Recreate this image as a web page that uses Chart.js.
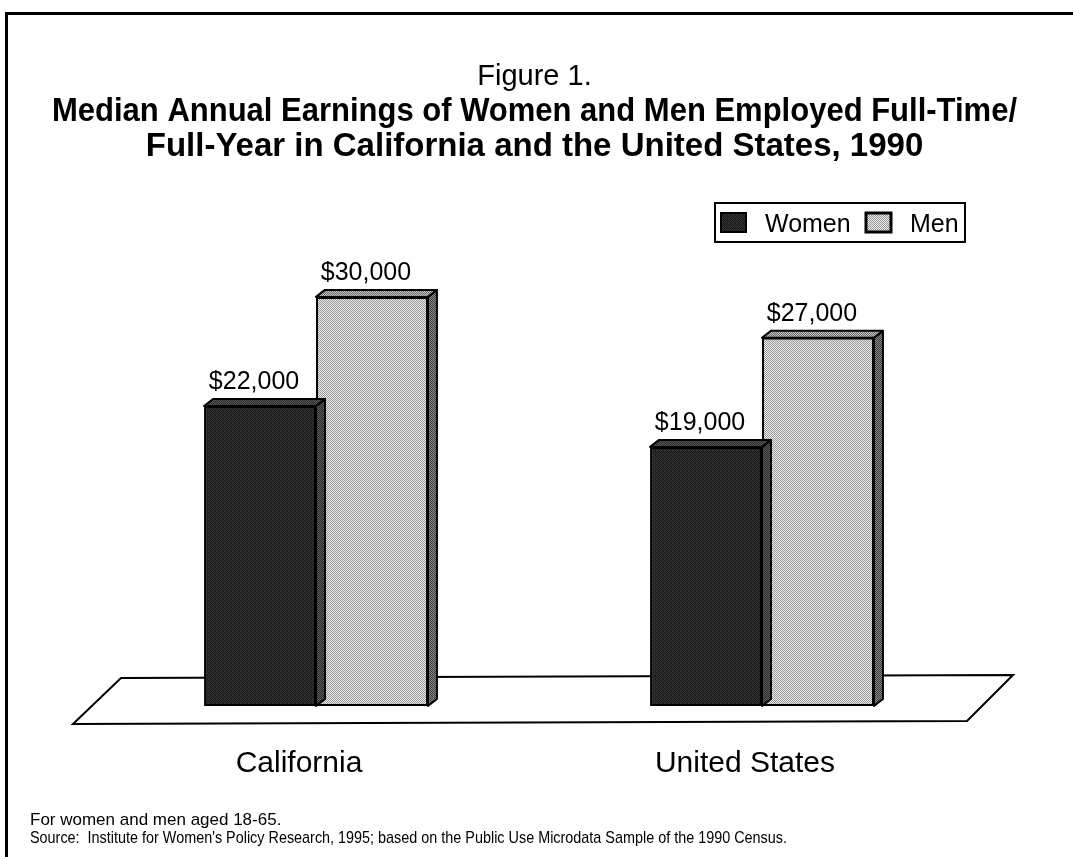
<!DOCTYPE html>
<html>
<head>
<meta charset="utf-8">
<script src="https://cdn.jsdelivr.net/npm/chart.js@4"></script>
<style>
  html, body { margin: 0; padding: 0; background: #fff; }
  #wrap { position: relative; width: 1073px; height: 857px; overflow: hidden; }
  #frame { position: absolute; left: 5px; top: 12px; right: -5px; bottom: -5px;
           border-left: 3px solid #000; border-top: 3px solid #000; pointer-events: none; }
  canvas { display: block; }
</style>
</head>
<body>
<div id="wrap">
  <canvas id="earningsChart" width="1073" height="857"></canvas>
  <div id="frame"></div>
</div>
<script>
const FONT = '"Liberation Sans", Arial, Helvetica, sans-serif';

const categories = ["California", "United States"];
const seriesNames = ["Women", "Men"];
const womenEarnings = [22000, 19000];
const menEarnings = [30000, 27000];
const footnotes = [
    "For women and men aged 18-65.",
    "Source:  Institute for Women's Policy Research, 1995; based on the Public Use Microdata Sample of the 1990 Census."
];

// depth of the fake 3d extrusion
const DX = 9;
const DY = 7;

// small dithered fills like the old print shades
function makePattern(cells, size) {
    const c = document.createElement("canvas");
    c.width = size;
    c.height = size;
    const g = c.getContext("2d");
    cells.forEach((col, i) => {
        g.fillStyle = col;
        g.fillRect(i % size, Math.floor(i / size), 1, 1);
    });
    return g.createPattern(c, "repeat");
}

const womenFront = makePattern([
    "#1a1a1a", "#303030", "#202020", "#2a2a2a",
    "#2c2c2c", "#181818", "#363636", "#1e1e1e",
    "#222222", "#343434", "#1c1c1c", "#2e2e2e",
    "#383838", "#1e1e1e", "#2a2a2a", "#161616"
], 4);
const womenCap = makePattern(["#2a2a2a", "#5a5a5a", "#5a5a5a", "#2a2a2a"], 2);
const menFront = makePattern(["#969696", "#eeeeee", "#eeeeee", "#969696"], 2);
const menCap = makePattern(["#6a6a6a", "#c4c4c4", "#c4c4c4", "#6a6a6a"], 2);
const menSide = makePattern(["#3a3a3a", "#8a8a8a", "#8a8a8a", "#3a3a3a"], 2);

const shades = [
    { front: womenFront, cap: womenCap, side: womenCap },
    { front: menFront, cap: menCap, side: menSide }
];

const floorAndBlocks = {
    id: "floorAndBlocks",
    beforeDatasetsDraw(chart) {
        const { ctx, chartArea } = chart;
        const b = chartArea.bottom;
        ctx.save();
        ctx.beginPath();
        ctx.moveTo(chartArea.left + 28, b - 28);
        ctx.lineTo(chartArea.right + 28, b - 31);
        ctx.lineTo(chartArea.right - 18, b + 15);
        ctx.lineTo(chartArea.left - 20, b + 18);
        ctx.closePath();
        ctx.fillStyle = "#fff";
        ctx.fill();
        ctx.lineWidth = 2;
        ctx.strokeStyle = "#000";
        ctx.stroke();
        ctx.restore();
    },
    afterDatasetDraw(chart, args) {
        const { ctx } = chart;
        const shade = shades[args.index];
        args.meta.data.forEach(bar => {
            const { x, y, base, width } = bar.getProps(["x", "y", "base", "width"], true);
            const l = x - width / 2;
            const r = x + width / 2;
            ctx.save();
            ctx.lineWidth = 2;
            ctx.strokeStyle = "#000";
            ctx.lineJoin = "round";
            // right side
            ctx.beginPath();
            ctx.moveTo(r, y);
            ctx.lineTo(r + DX, y - DY);
            ctx.lineTo(r + DX, base - DY);
            ctx.lineTo(r, base);
            ctx.closePath();
            ctx.fillStyle = shade.side;
            ctx.fill();
            ctx.stroke();
            // top
            ctx.beginPath();
            ctx.moveTo(l, y);
            ctx.lineTo(l + DX, y - DY);
            ctx.lineTo(r + DX, y - DY);
            ctx.lineTo(r, y);
            ctx.closePath();
            ctx.fillStyle = shade.cap;
            ctx.fill();
            ctx.stroke();
            ctx.restore();
        });
    },
    afterDraw(chart) {
        const { ctx, chartArea } = chart;
        ctx.save();
        ctx.fillStyle = "#000";

        // value labels over each bar
        ctx.font = "25px " + FONT;
        ctx.textAlign = "center";
        ctx.textBaseline = "middle";
        chart.data.datasets.forEach((ds, di) => {
            chart.getDatasetMeta(di).data.forEach((bar, i) => {
                const v = ds.data[i];
                ctx.fillText("$" + v.toLocaleString("en-US"), bar.x - 6, bar.y - 24);
            });
        });

        // boxed legend
        const L = chartArea.right - 270;
        const T = 203;
        ctx.lineWidth = 2;
        ctx.strokeStyle = "#000";
        ctx.strokeRect(L, T, 250, 39);
        ctx.textAlign = "left";
        const items = [
            { x: L + 6, fill: womenFront, lw: 2 },
            { x: L + 151, fill: menFront, lw: 3 }
        ];
        items.forEach((it, i) => {
            ctx.fillStyle = it.fill;
            ctx.fillRect(it.x, T + 10, 25, 19);
            ctx.lineWidth = it.lw;
            ctx.strokeRect(it.x, T + 10, 25, 19);
            ctx.fillStyle = "#000";
            ctx.fillText(seriesNames[i], it.x + 44, T + 22);
        });

        // notes under the chart
        ctx.font = "17px " + FONT;
        ctx.textBaseline = "alphabetic";
        ctx.fillText(footnotes[0], 30, 825);
        ctx.fillText(footnotes[1], 30, 843, 757);
        ctx.restore();
    }
};

// invisible side axes just hold the plot inside the wider title block
function spacerAxis(position, size) {
    return {
        position: position,
        display: true,
        grid: { display: false },
        border: { display: false },
        ticks: { display: false },
        afterFit(scale) { scale.width = size; }
    };
}

new Chart(document.getElementById("earningsChart"), {
    type: "bar",
    data: {
        labels: categories,
        datasets: [
            {
                label: seriesNames[0],
                data: womenEarnings,
                backgroundColor: womenFront,
                borderColor: "#000",
                borderWidth: 2,
                borderSkipped: false,
                categoryPercentage: 0.502,
                barPercentage: 1.0
            },
            {
                label: seriesNames[1],
                data: menEarnings,
                backgroundColor: menFront,
                borderColor: "#000",
                borderWidth: 2,
                borderSkipped: false,
                categoryPercentage: 0.502,
                barPercentage: 1.0
            }
        ]
    },
    options: {
        responsive: false,
        animation: false,
        devicePixelRatio: 1,
        layout: { padding: { left: 52, right: 56, top: 0, bottom: 43 } },
        plugins: {
            legend: { display: false },
            tooltip: { enabled: false },
            title: {
                display: true,
                text: "Figure 1.",
                color: "#000",
                font: { family: FONT, size: 29, weight: "normal", lineHeight: 1.2 },
                padding: { top: 60, bottom: 0 }
            },
            subtitle: {
                display: true,
                text: [
                    "Median Annual Earnings of Women and Men Employed Full-Time/",
                    "Full-Year in California and the United States, 1990"
                ],
                color: "#000",
                font: { family: FONT, size: 33, weight: "bold", lineHeight: "35px" },
                padding: { top: 0, bottom: 8 }
            }
        },
        scales: {
            x: {
                grid: { display: false },
                border: { display: false },
                ticks: {
                    color: "#000",
                    font: { family: FONT, size: 30 },
                    padding: 32,
                    labelOffset: -17
                }
            },
            y: Object.assign(spacerAxis("left", 41), { min: 0, max: 39100 }),
            yRight: spacerAxis("right", 32)
        }
    },
    plugins: [floorAndBlocks]
});
</script>
</body>
</html>
